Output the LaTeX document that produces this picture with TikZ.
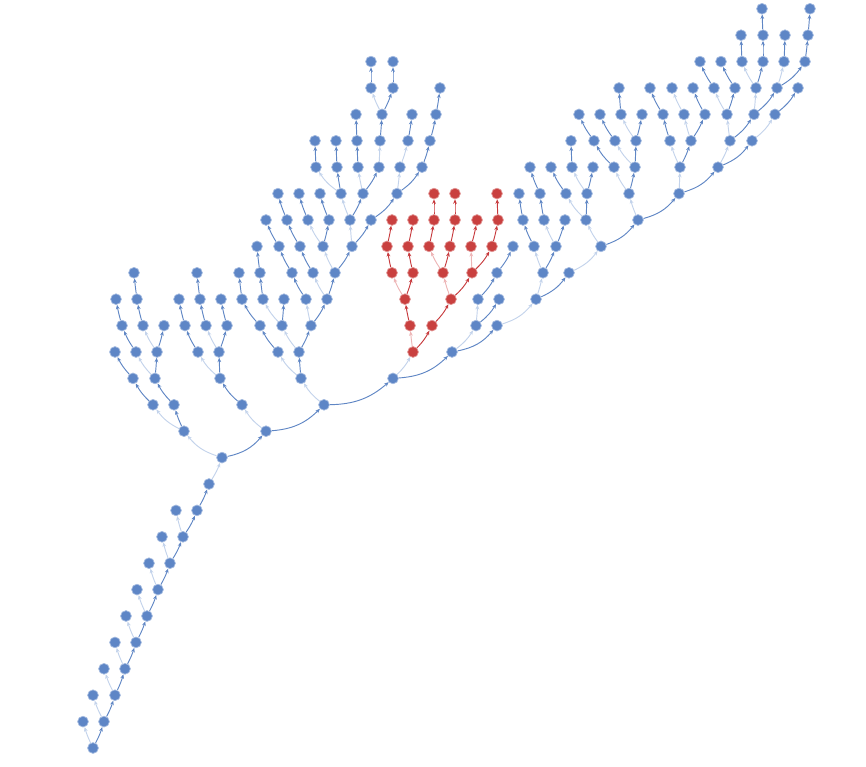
\documentclass[tikz,border=0pt]{standalone}
\usepackage{tikz}
\usetikzlibrary{arrows.meta, backgrounds}

\definecolor{vblue}{HTML}{5E86C6}
\definecolor{vred}{HTML}{C9403F}
\definecolor{eblue}{HTML}{5F86C4}
\definecolor{eblueLt}{HTML}{C3D3EB}
\definecolor{ered}{HTML}{C73A3D}
\definecolor{eredLt}{HTML}{EDB5B6}

\tikzset{
  vb/.style={circle, fill=vblue, draw=vblue!55, line width=0.6pt, minimum size=9.2pt, inner sep=0pt},
  vr/.style={circle, fill=vred, draw=vred!55, line width=0.6pt, minimum size=9.2pt, inner sep=0pt},
  arr/.style={line width=0.8pt, -{Stealth[length=3.8pt, width=3.2pt]}},
  dk/.style={arr, eblue},
  lt/.style={arr, eblueLt},
  rdk/.style={arr, ered},
  rlt/.style={arr, eredLt}
}

% curved connector: bends with the horizontal offset of the child
\newcommand\treeedge[3]{%
  \path (#2); \pgfgetlastxy{\px}{\py}%
  \path (#3); \pgfgetlastxy{\qx}{\qy}%
  \pgfmathsetmacro\bnd{max(-20,min(20,0.5*(\qx-\px)))}%
  \draw[#1] (#2) to[bend right=\bnd] (#3);%
}

\begin{document}
\begin{tikzpicture}[x=0.03cm, y=0.792cm]
\useasboundingbox (0,-0.682) rectangle (866,28.333);
% spine
\node[vb] (a0) at (93,0) {};
\node[vb] (l1) at (83,1) {};
\node[vb] (a1) at (104,1) {};
\node[vb] (l2) at (93,2) {};
\node[vb] (a2) at (115,2) {};
\node[vb] (l3) at (104,3) {};
\node[vb] (a3) at (125,3) {};
\node[vb] (l4) at (115,4) {};
\node[vb] (a4) at (136,4) {};
\node[vb] (l5) at (126,5) {};
\node[vb] (a5) at (147,5) {};
\node[vb] (l6) at (137,6) {};
\node[vb] (a6) at (158,6) {};
\node[vb] (l7) at (149,7) {};
\node[vb] (a7) at (170,7) {};
\node[vb] (l8) at (162,8) {};
\node[vb] (a8) at (183,8) {};
\node[vb] (l9) at (176,9) {};
\node[vb] (a9) at (197,9) {};
\node[vb] (a10) at (209,10) {};
\node[vb] (a11) at (222,11) {};
% left branch
\node[vb] (b1) at (184,12) {};
\node[vb] (b2) at (153,13) {};
\node[vb] (b3) at (174,13) {};
\node[vb] (b4) at (133,14) {};
\node[vb] (b6) at (155,14) {};
\node[vb] (b5) at (115,15) {};
\node[vb] (b7) at (136,15) {};
\node[vb] (b8) at (157,15) {};
\node[vb] (b9) at (122,16) {};
\node[vb] (b11) at (143,16) {};
\node[vb] (b12) at (164,16) {};
\node[vb] (b10) at (116,17) {};
\node[vb] (b13) at (137,17) {};
\node[vb] (b14) at (134,18) {};
\node[vb] (c1) at (266,12) {};
\node[vb] (c2) at (242,13) {};
\node[vb] (c3) at (220,14) {};
\node[vb] (c4) at (198,15) {};
\node[vb] (c5) at (219,15) {};
\node[vb] (c6) at (185,16) {};
\node[vb] (c8) at (206,16) {};
\node[vb] (c9) at (227,16) {};
\node[vb] (c7) at (179,17) {};
\node[vb] (c10) at (200,17) {};
\node[vb] (c12) at (221,17) {};
\node[vb] (c11) at (197,18) {};
% middle branch
\node[vb] (d1) at (324,13) {};
\node[vb] (d2) at (301,14) {};
\node[vb] (d3) at (278,15) {};
\node[vb] (d4) at (299,15) {};
\node[vb] (d5) at (260,16) {};
\node[vb] (d8) at (282,16) {};
\node[vb] (d9) at (311,16) {};
\node[vb] (d6) at (242,17) {};
\node[vb] (d10) at (263,17) {};
\node[vb] (d11) at (284,17) {};
\node[vb] (d14) at (306,17) {};
\node[vb] (d15) at (327,17) {};
\node[vb] (d7) at (239,18) {};
\node[vb] (d12) at (260,18) {};
\node[vb] (d16) at (292,18) {};
\node[vb] (d19) at (313,18) {};
\node[vb] (d20) at (335,18) {};
\node[vb] (d13) at (257,19) {};
\node[vb] (d17) at (279,19) {};
\node[vb] (d21) at (300,19) {};
\node[vb] (d24) at (323,19) {};
\node[vb] (d25) at (352,19) {};
\node[vb] (d18) at (266,20) {};
\node[vb] (d22) at (287,20) {};
\node[vb] (d26) at (308,20) {};
\node[vb] (d27) at (329,20) {};
\node[vb] (d30) at (350,20) {};
\node[vb] (d31) at (371,20) {};
\node[vb] (d23) at (278,21) {};
\node[vb] (d28) at (299,21) {};
\node[vb] (d29) at (320,21) {};
\node[vb] (d32) at (341,21) {};
\node[vb] (d33) at (363,21) {};
\node[vb] (d40) at (397,21) {};
\node[vb] (d34) at (316,22) {};
\node[vb] (d35) at (337,22) {};
\node[vb] (d36) at (358,22) {};
\node[vb] (d37) at (379,22) {};
\node[vb] (d41) at (400,22) {};
\node[vb] (d42) at (422,22) {};
\node[vb] (d43) at (315,23) {};
\node[vb] (d44) at (336,23) {};
\node[vb] (d45) at (357,23) {};
\node[vb] (d38) at (380,23) {};
\node[vb] (d46) at (408,23) {};
\node[vb] (d47) at (430,23) {};
\node[vb] (d48) at (356,24) {};
\node[vb] (d39) at (382,24) {};
\node[vb] (d49) at (412,24) {};
\node[vb] (d50) at (436,24) {};
\node[vb] (d51) at (371,25) {};
\node[vb] (d52) at (393,25) {};
\node[vb] (d53) at (440,25) {};
\node[vb] (d54) at (371,26) {};
\node[vb] (d55) at (393,26) {};
% red subtree
\node[vb] (e1) at (393,14) {};
\node[vr] (r0) at (413,15) {};
\node[vr] (r1) at (410,16) {};
\node[vr] (r2) at (432,16) {};
\node[vr] (r3) at (405,17) {};
\node[vr] (r6) at (451,17) {};
\node[vr] (r4) at (392,18) {};
\node[vr] (r5) at (413,18) {};
\node[vr] (r7) at (443,18) {};
\node[vr] (r8) at (472,18) {};
\node[vr] (r13) at (387,19) {};
\node[vr] (r14) at (408,19) {};
\node[vr] (r9) at (429,19) {};
\node[vr] (r10) at (450,19) {};
\node[vr] (r11) at (471,19) {};
\node[vr] (r12) at (492,19) {};
\node[vr] (r15) at (392,20) {};
\node[vr] (r16) at (413,20) {};
\node[vr] (r17) at (434,20) {};
\node[vr] (r18) at (455,20) {};
\node[vr] (r19) at (477,20) {};
\node[vr] (r20) at (498,20) {};
\node[vr] (r21) at (434,21) {};
\node[vr] (r22) at (455,21) {};
\node[vr] (r23) at (497,21) {};
% right branch
\node[vb] (e2) at (452,15) {};
\node[vb] (e3) at (476,16) {};
\node[vb] (e4) at (497,16) {};
\node[vb] (e5) at (478,17) {};
\node[vb] (e6) at (499,17) {};
\node[vb] (f1) at (536,17) {};
\node[vb] (e7) at (497,18) {};
\node[vb] (f2) at (543,18) {};
\node[vb] (f3) at (569,18) {};
\node[vb] (e8) at (513,19) {};
\node[vb] (f4) at (534,19) {};
\node[vb] (f5) at (556,19) {};
\node[vb] (g1) at (601,19) {};
\node[vb] (f6) at (523,20) {};
\node[vb] (f8) at (544,20) {};
\node[vb] (f9) at (565,20) {};
\node[vb] (g2) at (586,20) {};
\node[vb] (g3) at (638,20) {};
\node[vb] (f7) at (519,21) {};
\node[vb] (f10) at (540,21) {};
\node[vb] (g7) at (566,21) {};
\node[vb] (g4) at (587,21) {};
\node[vb] (g5) at (629,21) {};
\node[vb] (g6) at (679,21) {};
\node[vb] (f11) at (530,22) {};
\node[vb] (g8) at (551,22) {};
\node[vb] (g9) at (572,22) {};
\node[vb] (g10) at (593,22) {};
\node[vb] (g11) at (614,22) {};
\node[vb] (g12) at (635,22) {};
\node[vb] (h1) at (680,22) {};
\node[vb] (i1) at (718,22) {};
\node[vb] (g13) at (571,23) {};
\node[vb] (g14) at (594,23) {};
\node[vb] (g15) at (615,23) {};
\node[vb] (g16) at (636,23) {};
\node[vb] (h2) at (670,23) {};
\node[vb] (h3) at (691,23) {};
\node[vb] (i2) at (730,23) {};
\node[vb] (i3) at (752,23) {};
\node[vb] (g17) at (579,24) {};
\node[vb] (g18) at (600,24) {};
\node[vb] (g19) at (621,24) {};
\node[vb] (g20) at (642,24) {};
\node[vb] (h4) at (663,24) {};
\node[vb] (h5) at (684,24) {};
\node[vb] (h6) at (705,24) {};
\node[vb] (i4) at (727,24) {};
\node[vb] (i5) at (754,24) {};
\node[vb] (i6) at (775,24) {};
\node[vb] (g21) at (619,25) {};
\node[vb] (h7) at (650,25) {};
\node[vb] (h8) at (672,25) {};
\node[vb] (h9) at (693,25) {};
\node[vb] (i7) at (714,25) {};
\node[vb] (i8) at (735,25) {};
\node[vb] (i9) at (756,25) {};
\node[vb] (i10) at (777,25) {};
\node[vb] (i11) at (798,25) {};
\node[vb] (i12) at (700,26) {};
\node[vb] (i13) at (721,26) {};
\node[vb] (i14) at (742,26) {};
\node[vb] (i15) at (763,26) {};
\node[vb] (i16) at (784,26) {};
\node[vb] (i17) at (805,26) {};
\node[vb] (i18) at (741,27) {};
\node[vb] (i19) at (763,27) {};
\node[vb] (i20) at (785,27) {};
\node[vb] (i21) at (808,27) {};
\node[vb] (i22) at (762,28) {};
\node[vb] (i23) at (810,28) {};

\begin{scope}[on background layer]
% dark connectors
\foreach \pa/\ch in {a0/a1, a1/a2, a2/a3, a3/a4, a4/a5, a5/a6, a6/a7, a7/a8, a8/a9, a9/a10,
  a11/c1, b1/b3, b2/b4, b4/b5, b3/b6, b6/b8, b7/b9, b9/b10, b8/b12, b11/b13, b13/b14,
  c1/d1, c2/c3, c3/c5, c4/c6, c6/c7, c5/c9, c8/c10, c10/c11, c9/c12,
  d1/e1, d2/d4, d3/d5, d5/d6, d6/d7, d4/d9, d8/d11, d10/d12, d12/d13, d9/d15, d14/d16,
  d16/d17, d17/d18, d15/d20, d19/d21, d21/d22, d22/d23, d20/d25, d24/d27, d26/d28,
  d27/d29, d25/d31, d30/d33, d32/d35, d34/d43, d35/d44, d33/d37, d36/d45, d45/d48,
  d38/d39, d39/d52, d51/d54, d52/d55, d31/d40, d40/d42, d46/d49, d42/d47, d47/d50, d50/d53,
  e1/e2, e2/e4, e3/e6, e5/e7, e7/e8, f1/f3, f2/f5, f4/f6, f6/f7, f5/f9, f8/f10, f10/f11,
  g1/g3, g2/g4, g7/g8, g4/g10, g9/g13, g3/g6, g5/g12, g11/g14, g14/g17, g12/g16, g15/g18,
  g16/g20, g19/g21, g6/i1, h1/h3, h2/h4, h4/h7, h3/h6, h6/h9, i1/i3, i2/i5, i4/i8, i7/i12,
  i8/i13, i5/i10, i9/i15, i14/i18, i15/i19, i19/i22, i10/i17, i16/i20, i17/i21, i21/i23, i6/i11}
  {\treeedge{dk}{\pa}{\ch}}
% light connectors
\foreach \pa/\ch in {a0/l1, a1/l2, a2/l3, a3/l4, a4/l5, a5/l6, a6/l7, a7/l8, a8/l9, a10/a11,
  a11/b1, b1/b2, b6/b7, b8/b11, c1/c2, c3/c4, c5/c8, d1/d2, d2/d3, d4/d8, d8/d10, d9/d14,
  d15/d19, d20/d24, d24/d26, d25/d30, d30/d32, d32/d34, d33/d36, d37/d38, d39/d51, d40/d41,
  d41/d46, e1/r0, e2/e3, e3/e5, e4/f1, f1/f2, f2/f4, f5/f8, f3/g1, g1/g2, g2/g7, g4/g9,
  g3/g5, g5/g11, g12/g15, g16/g19, g6/h1, h1/h2, h3/h5, h5/h8, i1/i2, i2/i4, i4/i7, i5/i9,
  i9/i14, i10/i16, i3/i6}
  {\treeedge{lt}{\pa}{\ch}}
% red connectors
\foreach \pa/\ch in {r0/r2, r1/r3, r3/r5, r4/r13, r13/r15, r5/r14, r14/r16, r2/r6, r6/r8,
  r7/r10, r9/r17, r17/r21, r10/r18, r18/r22, r8/r12, r11/r19, r12/r20, r20/r23}
  {\treeedge{rdk}{\pa}{\ch}}
\foreach \pa/\ch in {r0/r1, r3/r4, r6/r7, r7/r9, r8/r11}
  {\treeedge{rlt}{\pa}{\ch}}
\end{scope}
\end{tikzpicture}
\end{document}
